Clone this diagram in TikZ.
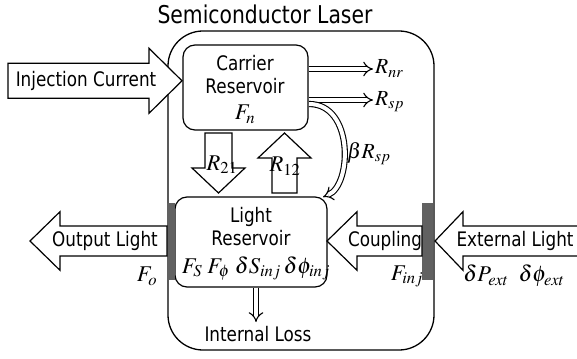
\documentclass[tikz,border=0pt]{standalone}
\usepackage{mathptmx}
\usepackage[no-math]{fontspec}
\newfontfamily\lblfont{DejaVu Sans}[FakeStretch=0.84]
\newfontfamily\ttlfont{DejaVu Sans}[FakeStretch=0.83]
\usetikzlibrary{arrows.meta}
\begin{document}
\begin{tikzpicture}[x=1pt,y=-1pt,
  lbl/.style={font=\lblfont\fontsize{20}{22}\selectfont, inner sep=0pt, anchor=base},
  ttl/.style={font=\ttlfont\fontsize{24.5}{27}\selectfont, inner sep=0pt, anchor=base},
  mth/.style={font=\fontsize{22.5}{24}\selectfont, inner sep=0pt, anchor=base},
  mths/.style={font=\fontsize{21.5}{23}\selectfont, inner sep=0pt, anchor=base west},
  box/.style={draw, line width=1.2pt, rounded corners=12pt, fill=white, inner sep=0pt},
  blk/.style={draw, line width=1.2pt, fill=white, line join=miter},
  dbl/.style={draw, line width=1.1pt, double=white, double distance=4pt, -{Implies}},
  bar/.style={fill=black!62, draw=none}]
\useasboundingbox (0,0) rectangle (577,358);
% outer box
\node[draw, line width=1.3pt, rounded corners=35pt, minimum width=266pt, minimum height=319pt, inner sep=0pt] (laser) at (301,190.5) {};
\node[ttl] (title) at (265,23.5) {Semiconductor Laser};
% reservoirs
\node[box, minimum width=125pt, minimum height=85pt] (cr) at (245.5,87.5) {};
\node[box, minimum width=152pt, minimum height=90pt] (lr) at (251,242) {};
% mirrors
\fill[bar] (167,203) rectangle (175,280);
\fill[bar] (422,203) rectangle (433,280);
% block arrows
\path[blk] (8,63.3) -- (149,63.3) -- (149,48.3) -- (182,80.8) -- (149,113.3) -- (149,98.3) -- (8,98.3) -- cycle;
\path[blk] (167,226) -- (60,226) -- (60,211.7) -- (30,241) -- (60,270.3) -- (60,256) -- (167,256) -- cycle;
\path[blk] (422,226) -- (357,226) -- (357,211.7) -- (327,241) -- (357,270.3) -- (357,256) -- (422,256) -- cycle;
\path[blk] (582,226) -- (463,226) -- (463,211.7) -- (435,241) -- (463,270.3) -- (463,256) -- (582,256) -- cycle;
\path[blk] (205,133) -- (232,133) -- (232,168) -- (245,168) -- (218.5,193) -- (192,168) -- (205,168) -- cycle;
\path[blk] (272,193) -- (272,158) -- (258,158) -- (284.5,133) -- (311,158) -- (297,158) -- (297,193) -- cycle;
% double arrows
\coordinate (rnr) at (373,69);
\coordinate (rsp) at (373,100);
\coordinate (loss) at (256,322);
\coordinate (bstart) at (309,104);
\coordinate (bend) at (323,197);
\draw[dbl] (cr.east |- rnr) -- (rnr);
\draw[dbl] (cr.east |- rsp) -- (rsp);
\draw[dbl] (loss |- lr.south) -- (loss);
\draw[dbl] (bstart) .. controls (354,104) and (352,185) .. (bend);
% texts
\node[lbl] (t1) at (245,70.7) {Carrier};
\node[lbl] (t2) at (245,93.3) {Reservoir};
\node[mth] (fn) at (245,120) {$F_n$};
\node[lbl] (t3) at (251,222.3) {Light};
\node[lbl] (t4) at (251,245) {Reservoir};
\node[mth] (fl) at (256,273.3) {$F_S\;F_\phi\;\delta S_{inj}\,\delta\phi_{inj}$};
\node[lbl] (t5) at (86,86.7) {Injection Current};
\node[lbl] (t6) at (105,246.7) {Output Light};
\node[lbl] (t7) at (385,246.7) {Coupling};
\node[lbl] (t8) at (515,246.7) {External Light};
\node[lbl] (t9) at (258,341.7) {Internal Loss};
\node[mth] (fo) at (147,281.7) {$F_o$};
\node[mth] (finj) at (407,280) {$F_{inj}$};
\node[mth] (fext) at (514,281.7) {$\delta P_{ext}\;\;\delta\phi_{ext}$};
\node[mths] (lnr) at (375,74) {$R_{nr}$};
\node[mths] (lsp) at (375,105.5) {$R_{sp}$};
\node[mths] (lb) at (347,158) {$\beta R_{sp}$};
\node[mth] (l21) at (222,170) {$R_{21}$};
\node[mth] (l12) at (285,171.7) {$R_{12}$};
\end{tikzpicture}
\end{document}
